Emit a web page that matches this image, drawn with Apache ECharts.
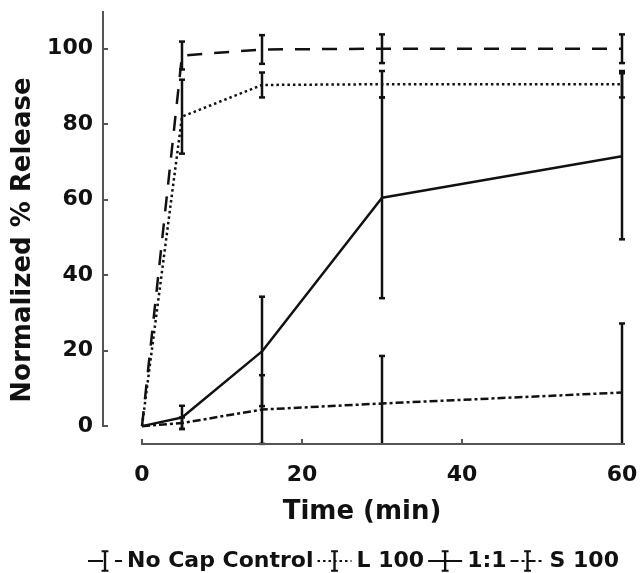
<!DOCTYPE html>
<html>
<head>
<meta charset="utf-8">
<script src="https://cdn.jsdelivr.net/npm/echarts@6/dist/echarts.min.js"></script>
<style>
  html, body { margin: 0; padding: 0; background: #fff; }
  #chart { width: 642px; height: 573px; }
</style>
</head>
<body>
<div id="chart"></div>
<script>
// Sampling times (min)
const times = [0, 5, 15, 30, 60];

// Mean normalized release (%) and error (±) per formulation
const noCapMean = [0, 98.2, 99.8, 100, 100];
const noCapErr  = [0, 3.7, 3.8, 3.8, 3.8];
const l100Mean  = [0, 82, 90.4, 90.6, 90.6];
const l100Err   = [0, 9.8, 3.3, 3.5, 3.5];
const oneOneMean = [0, 2.3, 19.8, 60.5, 71.5];
const oneOneErr  = [0, 3.1, 14.5, 26.6, 22];
const s100Mean  = [0, 0.8, 4.4, 6.0, 8.9];
const s100Err   = [0, 1.5, 9.1, 12.6, 18.3];

// Axis tick values
const xTickValues = [0, 20, 40, 60];
const yTickValues = [0, 20, 40, 60, 80, 100];

const seriesNames = ['No Cap Control', 'L 100', '1:1', 'S 100'];

const FONT = 'DejaVu Sans';
const INK = '#111';
const AXIS_INK = '#555';
const Y_MIN = -5, Y_MAX = 110, X_MIN = -5, X_MAX = 60;

// Error-bar glyph (capped "I") used as the series symbol, so the legend shows
// the line pattern with the glyph in its middle. Two hairline slivers keep the
// glyph's box square.
const errorGlyph = 'path://M0 11L0.02 11L0.02 11.02Z M22 11L21.98 11L21.98 11.02Z ' +
  'M7.5 0L14.5 0L14.5 2L12.2 2L12.2 20L14.5 20L14.5 22L7.5 22L7.5 20L9.8 20L9.8 2L7.5 2Z';

const lineTypes = {
  'No Cap Control': [15, 12],
  'L 100': [2.5, 3],
  '1:1': 'solid',
  'S 100': [8, 3, 3, 3]
};

const means = [noCapMean, l100Mean, oneOneMean, s100Mean];
const errs = [noCapErr, l100Err, oneOneErr, s100Err];

function pairs(values) {
  return times.map((t, i) => [t, values[i]]);
}
function errorData(m, e) {
  const out = [];
  times.forEach((t, i) => {
    if (e[i] > 0) out.push([t, m[i] - e[i], m[i] + e[i]]);
  });
  return out;
}

// Vertical error bar with caps; the lower end stops at the bottom of the plot
function renderErrorBar(params, api) {
  const x = api.value(0);
  const loVal = api.value(1);
  const clipped = loVal < Y_MIN;
  const lo = api.coord([x, clipped ? Y_MIN : loVal]);
  const hi = api.coord([x, api.value(2)]);
  const hw = 3;
  const st = { stroke: INK, lineWidth: 2.5, fill: null };
  const children = [
    { type: 'line', shape: { x1: hi[0], y1: hi[1], x2: lo[0], y2: lo[1] }, style: st },
    { type: 'line', shape: { x1: hi[0] - hw, y1: hi[1], x2: hi[0] + hw, y2: hi[1] }, style: st }
  ];
  if (!clipped) {
    children.push({ type: 'line', shape: { x1: lo[0] - hw, y1: lo[1], x2: lo[0] + hw, y2: lo[1] }, style: st });
  }
  return { type: 'group', children: children };
}

const series = [];
seriesNames.forEach((name, k) => {
  series.push({
    name: name,
    type: 'line',
    data: pairs(means[k]),
    symbol: errorGlyph,
    symbolKeepAspect: true,
    showSymbol: false,
    smooth: false,
    clip: false,
    itemStyle: { color: INK },
    lineStyle: { color: INK, width: 2.5, type: lineTypes[name] },
    z: 3
  });
});
seriesNames.forEach((name, k) => {
  series.push({
    name: name + ' error',
    type: 'custom',
    data: errorData(means[k], errs[k]),
    renderItem: renderErrorBar,
    clip: false,
    z: 4
  });
});

const chart = echarts.init(document.getElementById('chart'), null, { renderer: 'canvas' });

const option = {
  animation: false,
  backgroundColor: '#fff',
  grid: { left: 102, right: 20, top: 11, bottom: 128, containLabel: false, outerBoundsMode: 'none' },
  xAxis: {
    type: 'value',
    min: X_MIN,
    max: X_MAX,
    name: 'Time (min)',
    nameLocation: 'middle',
    nameGap: 54,
    nameTextStyle: { fontFamily: FONT, fontWeight: 'bold', fontSize: 26, color: INK },
    axisLine: { show: false, onZero: false },
    splitLine: { show: false },
    axisTick: { show: true, inside: true, length: 6, customValues: xTickValues, lineStyle: { color: AXIS_INK, width: 2 } },
    axisLabel: { customValues: xTickValues, margin: 19, fontFamily: FONT, fontWeight: 'bold', fontSize: 22, color: INK }
  },
  yAxis: {
    type: 'value',
    min: Y_MIN,
    max: Y_MAX,
    name: 'Normalized % Release',
    nameLocation: 'middle',
    nameGap: 66,
    nameRotate: 90,
    nameTextStyle: { fontFamily: FONT, fontWeight: 'bold', fontSize: 26, color: INK, padding: [0, 24, 0, 0] },
    axisLine: { show: false, onZero: false },
    splitLine: { show: false },
    axisTick: { show: true, inside: true, length: 6, customValues: yTickValues, lineStyle: { color: AXIS_INK, width: 2 } },
    axisLabel: { customValues: yTickValues, margin: 9, fontFamily: FONT, fontWeight: 'bold', fontSize: 22, color: INK }
  },
  legend: {
    show: true,
    left: 82,
    top: 545,
    orient: 'horizontal',
    itemWidth: 34,
    itemHeight: 27,
    itemGap: 3,
    selectedMode: false,
    textStyle: { fontFamily: FONT, fontWeight: 'bold', fontSize: 22, color: INK },
    data: seriesNames
  },
  series: series
};

chart.setOption(option);

// Offset axis lines: y from 0 to 110, x from 0 to 60, placed through the chart's own scales
const px = (v) => chart.convertToPixel({ gridIndex: 0 }, v);
const yBottom = px([X_MIN, 0]);
const yTop = px([X_MIN, Y_MAX]);
const xStart = px([0, Y_MIN]);
const xEnd = px([X_MAX, Y_MIN]);
chart.setOption({
  graphic: [
    { type: 'line', shape: { x1: yBottom[0] + 1, y1: yBottom[1], x2: yTop[0] + 1, y2: yTop[1] }, style: { stroke: AXIS_INK, lineWidth: 2 }, z: 10 },
    { type: 'line', shape: { x1: xStart[0], y1: xStart[1] - 1, x2: xEnd[0] + 3, y2: xEnd[1] - 1 }, style: { stroke: AXIS_INK, lineWidth: 2 }, z: 10 }
  ]
});
</script>
</body>
</html>
